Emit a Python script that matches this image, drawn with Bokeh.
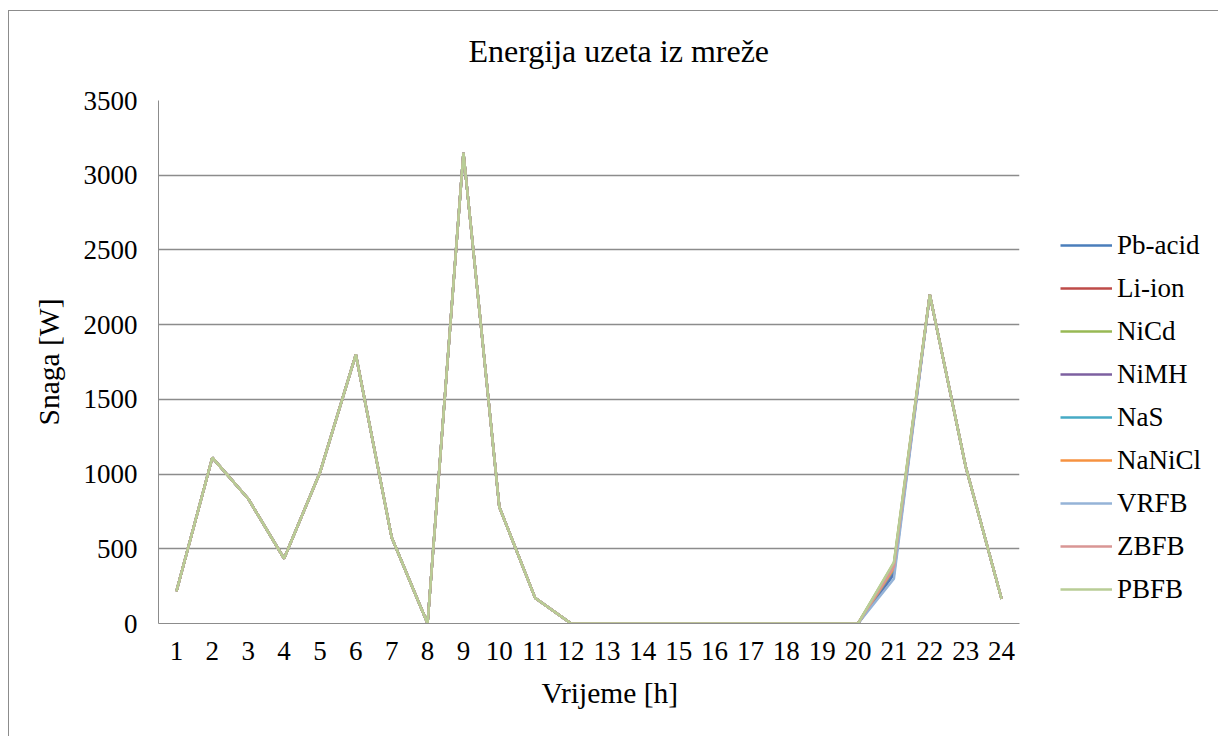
from bokeh.plotting import figure
from bokeh.models import Legend, LegendItem, FixedTicker, Range1d, Title
from bokeh.embed import file_html
from bokeh.resources import INLINE

hours = list(range(1, 25))
series_names = ["Pb-acid", "Li-ion", "NiCd", "NiMH", "NaS", "NaNiCl", "VRFB", "ZBFB", "PBFB"]
colors = ["#4A7EBB", "#BE4B48", "#98B954", "#7D60A0", "#46AAC5", "#F69240", "#95B3D7", "#D99694", "#B9CD96"]

base_head = [215, 1110, 835, 435, 1010, 1800, 575, 0, 3150, 780, 170, 0, 0, 0, 0, 0, 0, 0, 0, 0]
base_tail = [2200, 1050, 165]
hour21 = {"Pb-acid": 330, "Li-ion": 390, "NiCd": 405, "NiMH": 350, "NaS": 360,
          "NaNiCl": 370, "VRFB": 300, "ZBFB": 380, "PBFB": 410}

pb_acid = base_head + [hour21["Pb-acid"]] + base_tail
li_ion = base_head + [hour21["Li-ion"]] + base_tail
nicd = base_head + [hour21["NiCd"]] + base_tail
nimh = base_head + [hour21["NiMH"]] + base_tail
nas = base_head + [hour21["NaS"]] + base_tail
nanicl = base_head + [hour21["NaNiCl"]] + base_tail
vrfb = base_head + [hour21["VRFB"]] + base_tail
zbfb = base_head + [hour21["ZBFB"]] + base_tail
pbfb = base_head + [hour21["PBFB"]] + base_tail
values = [pb_acid, li_ion, nicd, nimh, nas, nanicl, vrfb, zbfb, pbfb]

y_ticks = [0, 500, 1000, 1500, 2000, 2500, 3000, 3500]

FONT = "Liberation Serif"
GRID = "#8C8C8C"

chart_frame_css = ("linear-gradient(#8C8C8C, #8C8C8C) 8px 10px / 100% 1px no-repeat, "
                   "linear-gradient(#8C8C8C, #8C8C8C) 8px 10px / 1px 100% no-repeat, #FFFFFF")

p = figure(frame_width=861, frame_height=523, output_backend="svg", toolbar_location=None,
           x_range=Range1d(0.5, 24.5), y_range=Range1d(0, 3500),
           min_border_left=158, min_border_right=198, min_border_top=100, min_border_bottom=113,
           styles={"background": chart_frame_css})
p.outline_line_color = None
p.background_fill_color = "white"
p.border_fill_alpha = 0

p.title.text = "Energija uzeta iz mreže"
p.title.text_font = FONT
p.title.text_font_size = "32px"
p.title.text_font_style = "normal"
p.title.text_color = "black"
p.title.align = "left"
p.title.vertical_align = "middle"
p.title.offset = 310
p.title.standoff = 61

p.xaxis.ticker = FixedTicker(ticks=hours)
p.yaxis.ticker = FixedTicker(ticks=y_ticks)
for ax in (p.xaxis[0], p.yaxis[0]):
    ax.axis_line_color = GRID
    ax.axis_line_width = 1
    ax.major_tick_line_color = None
    ax.minor_tick_line_color = None
    ax.major_tick_out = 0
    ax.major_tick_in = 0
    ax.major_label_text_font = FONT
    ax.major_label_text_font_size = "27px"
    ax.major_label_text_color = "black"
    ax.axis_label_text_font = FONT
    ax.axis_label_text_font_size = "29.5px"
    ax.axis_label_text_font_style = "normal"
    ax.axis_label_text_color = "black"

p.yaxis.axis_label = "Snaga [W]"
p.xaxis.major_label_standoff = 18
p.yaxis.major_label_standoff = 21
p.yaxis.axis_label_standoff = 16

xlabel = Title(text="Vrijeme [h]", text_font=FONT, text_font_size="29.5px",
               text_font_style="normal", text_color="black", align="left",
               offset=383, standoff=25)
p.add_layout(xlabel, "below")

p.xgrid.grid_line_color = None
p.ygrid.grid_line_color = GRID
p.ygrid.grid_line_width = 1.3

items = []
for name, col, vals in zip(series_names, colors, values):
    r = p.line(hours, vals, line_color=col, line_width=2.5)
    items.append(LegendItem(label=name, renderers=[r]))

legend = Legend(items=items, location=(41, 18))
legend.padding = 0
legend.margin = 0
legend.spacing = 11
legend.glyph_width = 52
legend.glyph_height = 20
legend.label_height = 32
legend.label_standoff = 5
legend.label_text_font = FONT
legend.label_text_font_size = "27px"
legend.label_text_color = "black"
legend.border_line_color = None
legend.background_fill_alpha = 0
p.add_layout(legend, "right")

open("out.html", "w").write(file_html(p, INLINE))
